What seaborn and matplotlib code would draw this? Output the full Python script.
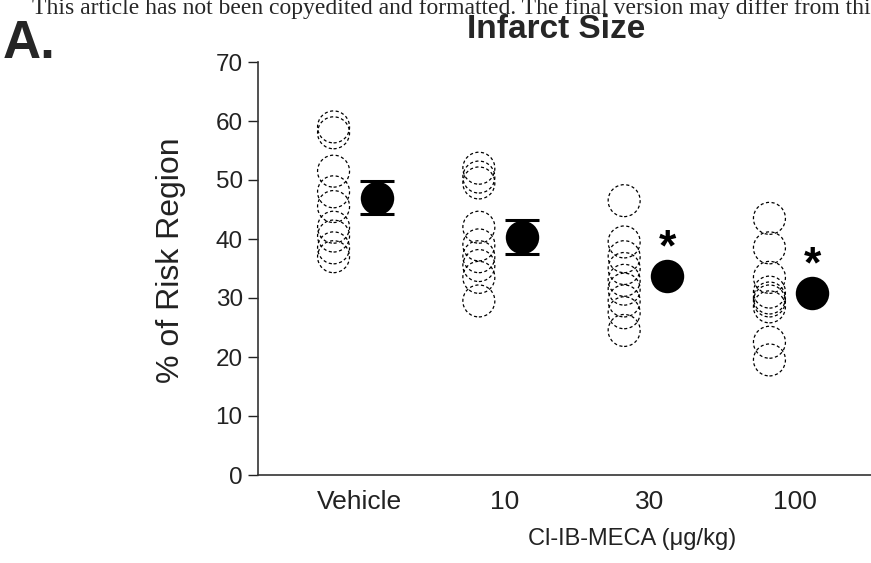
import matplotlib
matplotlib.use('Agg')
import matplotlib.pyplot as plt
import seaborn as sns
import numpy as np
import pandas as pd

# ---------------- data ----------------
groups = ['Vehicle', '10', '30', '100']
vehicle_vals = [59, 58, 51.5, 48, 45.5, 42, 40.5, 38.5, 37]
dose10_vals = [52, 50.5, 49.5, 42, 39, 37, 35.5, 33.5, 29.5]
dose30_vals = [46.5, 39.5, 37, 35, 33, 31.5, 29.5, 27.5, 24.5]
dose100_vals = [43.5, 38.5, 33.5, 31, 30, 29.5, 28.5, 22.5, 19.5]
group_means = [47.0, 40.3, 33.8, 30.8]
group_sems = [2.8, 2.9, 1.2, 1.2]
significant = [False, False, True, True]
y_ticks = [0, 10, 20, 30, 40, 50, 60, 70]

# ---------------- style ----------------
sns.set_theme(style='white')
plt.rcParams['font.family'] = ['Liberation Sans', 'DejaVu Sans']

W, H = 871, 563
fig = plt.figure(figsize=(W / 100, H / 100), dpi=100)
ax = fig.add_axes([258 / W, 88 / H, (W - 258) / W, (475 - 62) / H])

off = 0.148
rows = []
for i, vals in enumerate([vehicle_vals, dose10_vals, dose30_vals, dose100_vals]):
    for v in vals:
        rows.append({'group': groups[i], 'pos': i - off, 'value': v})
df = pd.DataFrame(rows)

sns.scatterplot(data=df, x='pos', y='value', ax=ax, s=530, marker='o',
                color='black', legend=False, zorder=2)
pts = ax.collections[-1]
pts.set_facecolor('none')
pts.set_edgecolor('black')
pts.set_linewidth(0.9)
pts.set_linestyle((0, (2.5, 2.0)))

mean_df = pd.DataFrame({'group': groups,
                        'pos': [i + off for i in range(len(groups))],
                        'mean': group_means, 'sem': group_sems})
# error bars shorter than the symbol radius are hidden behind it (as in the original)
marker_radius_units = 2.7
vis = mean_df[mean_df['sem'] > marker_radius_units]
ax.errorbar(vis['pos'], vis['mean'], yerr=vis['sem'], fmt='none',
            ecolor='black', elinewidth=1.5, capsize=12.5, capthick=2.2, zorder=3)
sns.scatterplot(data=mean_df, x='pos', y='mean', ax=ax, s=580, marker='o',
                color='black', edgecolor='black', linewidth=0, legend=False, zorder=4)

for i, sig in enumerate(significant):
    if sig:
        ax.text(i + off, group_means[i] + 4.6, '*', ha='center', va='center',
                fontsize=32, fontweight='bold', color='black')

ax.set_xlim(-0.668, 3.551)
ax.set_ylim(0, 70)
ax.set_yticks(y_ticks)
ax.set_yticklabels([str(t) for t in y_ticks])
ax.set_xticks([i + 0.03 for i in range(len(groups))])
ax.set_xticklabels(groups)
ax.tick_params(axis='y', direction='out', length=7, width=1, labelsize=17.5,
               pad=4, left=True, colors='#222222')
ax.tick_params(axis='x', length=0, labelsize=19, pad=11, colors='#222222')
for s in ['top', 'right']:
    ax.spines[s].set_visible(False)
for s in ['left', 'bottom']:
    ax.spines[s].set_linewidth(1.2)
    ax.spines[s].set_color('#333333')

ax.set_ylabel('% of Risk Region', fontsize=23, color='#222222')
ax.yaxis.set_label_coords(-0.118, 0.52)
ax.set_xlabel('Cl-IB-MECA (\u03bcg/kg)', fontsize=17, color='#222222')
ax.xaxis.set_label_coords(0.61, -0.128)
ax.set_facecolor('white')

fig.text(556 / W, 1 - 29 / H, 'Infarct Size', ha='center', va='center',
         fontsize=24, fontweight='bold')
fig.text(3 / W, 1 - 58 / H, 'A.', ha='left', va='baseline',
         fontsize=38, fontweight='bold')
fig.text(32 / W, 1 - 14 / H,
         'This article has not been copyedited and formatted. The final version may differ from this version.',
         ha='left', va='baseline', fontsize=17, family=['Liberation Serif', 'DejaVu Serif'])

fig.savefig('out.png', dpi=100, facecolor='white')
